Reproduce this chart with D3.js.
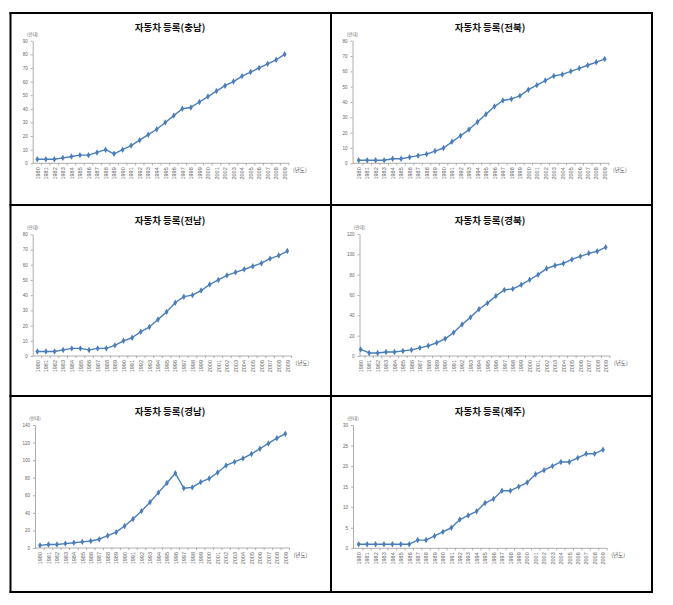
<!DOCTYPE html>
<html><head><meta charset="utf-8">
<script src="https://cdn.jsdelivr.net/npm/d3@7/dist/d3.min.js"></script>
<style>body{margin:0;background:#fff}svg{display:block}</style>
</head><body><svg id="c" width="673" height="605"></svg>
<script>
// ---- data ----
const years = ["1980","1981","1982","1983","1984","1985","1986","1987","1988","1989",
  "1990","1991","1992","1993","1994","1995","1996","1997","1998","1999",
  "2000","2001","2002","2003","2004","2005","2006","2007","2008","2009"];
const titles = ["자동차 등록(충남)","자동차 등록(전북)","자동차 등록(전남)","자동차 등록(경북)","자동차 등록(경남)","자동차 등록(제주)"];
const chungnam = [3,3,3,4,5,6,6,8,10,7,10,13,17,21,25,30,35,40,41,45,49,53,57,60,64,67,70,73,76,80];
const jeonbuk  = [2,2,2,2,3,3,4,5,6,8,10,14,18,22,27,32,37,41,42,44,48,51,54,57,58,60,62,64,66,68];
const jeonnam  = [3,3,3,4,5,5,4,5,5,7,10,12,16,19,24,29,35,39,40,43,47,50,53,55,57,59,61,64,66,69];
const gyeongbuk= [6.5,3,3,4,4,5,6,8,10,13,17,23,31,38,46,52,59,65,66,70,75,80,86,89,91,95,98,101,103,107];
const gyeongnam= [3,4,4,5,6,7,8,10,14,18,25,33,42,52,63,74,85,68,69,75,79,86,94,98,102,107,113,119,125,130];
const jeju     = [1,1,1,1,1,1,1,2,2,3,4,5,7,8,9,11,12,14,14,15,16,18,19,20,21,21,22,23,23,24];
const seriesList = [chungnam, jeonbuk, jeonnam, gyeongbuk, gyeongnam, jeju];
const yMaxes = [90, 80, 80, 120, 140, 30];
const ySteps = [10, 10, 10, 20, 20, 5];
const yUnit = "(만대)";
const xUnit = "(년도)";

// ---- layout ----
const layout = [
  {ax:32.7, x0:37.3, x1:284.7, y0:163.3, y1:40.7, tx:170, ty:31},
  {ax:352.5, x0:358.7, x1:604.7, y0:163.3, y1:40.7, tx:490, ty:31},
  {ax:32.7, x0:37.3, x1:287.3, y0:356, y1:234.3, tx:170, ty:224},
  {ax:359.5, x0:360.7, x1:605.7, y0:356, y1:234, tx:490, ty:224},
  {ax:35, x0:40, x1:285.3, y0:548, y1:425, tx:170, ty:415},
  {ax:353, x0:358.7, x1:603, y0:548.3, y1:425, tx:490, ty:415}
];
const color = "#4A7EBB";
const svg = d3.select("#c");

// table borders
const vx = [10.5, 331, 652], hy = [13, 205, 396, 592];
vx.forEach(x => svg.append("line").attr("x1",x).attr("x2",x).attr("y1",hy[0]-1).attr("y2",hy[3]+1)
  .attr("stroke","#000").attr("stroke-width",2));
hy.forEach(y => svg.append("line").attr("x1",vx[0]-1).attr("x2",vx[2]+1).attr("y1",y).attr("y2",y)
  .attr("stroke","#000").attr("stroke-width",2));

seriesList.forEach((vals, i) => {
  const L = layout[i];
  const g = svg.append("g");
  const x = d3.scalePoint().domain(years).range([L.x0, L.x1]);
  const y = d3.scaleLinear().domain([0, yMaxes[i]]).range([L.y0, L.y1]);
  const step = x.step();

  // title
  g.append("text").attr("x", L.tx).attr("y", L.ty).attr("text-anchor","middle")
    .attr("font-family","'Noto Sans CJK KR', sans-serif").attr("font-weight","bold")
    .attr("font-size", 9.5).attr("fill","#111").text(titles[i]);

  // y axis
  const yAxis = d3.axisLeft(y).tickValues(d3.range(0, yMaxes[i] + 0.001, ySteps[i]))
    .tickSize(2).tickSizeOuter(0).tickPadding(3);
  const ya = g.append("g").attr("transform", `translate(${L.ax},0)`).call(yAxis);
  ya.select(".domain").attr("stroke","#999").attr("stroke-width",0.8);
  ya.selectAll(".tick line").attr("stroke","#999").attr("stroke-width",0.8);
  ya.selectAll("text").attr("font-family","'Liberation Sans', sans-serif")
    .attr("font-size",4.5).attr("fill","#666");

  // x axis
  const xAxis = d3.axisBottom(x).tickSize(0).tickPadding(3);
  const xa = g.append("g").attr("transform", `translate(0,${L.y0})`).call(xAxis);
  xa.select(".domain").remove();
  xa.selectAll(".tick text").attr("font-family","'Liberation Sans', sans-serif")
    .attr("font-size",5.5).attr("fill","#666")
    .attr("text-anchor","end").attr("dy","0.32em")
    .attr("transform","translate(0,4) rotate(-90)").attr("y",0).attr("x",0);
  const xEnd = L.x1 + step * 0.5;
  g.append("line").attr("x1", L.ax).attr("x2", xEnd).attr("y1", L.y0).attr("y2", L.y0)
    .attr("stroke","#999").attr("stroke-width",0.8);
  years.forEach(yr => {
    const tx = x(yr) + step / 2;
    g.append("line").attr("x1", tx).attr("x2", tx).attr("y1", L.y0).attr("y2", L.y0 + 2)
      .attr("stroke","#999").attr("stroke-width",0.8);
  });

  // unit labels
  g.append("text").attr("x", L.ax).attr("y", L.y1 - 5).attr("text-anchor","middle")
    .attr("font-family","'Noto Sans CJK KR', sans-serif").attr("font-size",4.5).attr("fill","#666").text(yUnit);
  g.append("text").attr("x", xEnd + 4).attr("y", L.y0 + 9).attr("text-anchor","start")
    .attr("font-family","'Noto Sans CJK KR', sans-serif").attr("font-size",5.5).attr("fill","#555").text(xUnit);

  // line
  const line = d3.line().x((d, j) => x(years[j])).y(d => y(d));
  g.append("path").datum(vals).attr("d", line).attr("fill","none")
    .attr("stroke", color).attr("stroke-width", 1.4).attr("stroke-linejoin","round");
  const sym = d3.symbol().type(d3.symbolDiamond).size(12);
  g.selectAll("path.m").data(vals).join("path").attr("class","m")
    .attr("d", sym).attr("transform", (d, j) => `translate(${x(years[j])},${y(d)})`)
    .attr("fill", color);
});
</script></body></html>
